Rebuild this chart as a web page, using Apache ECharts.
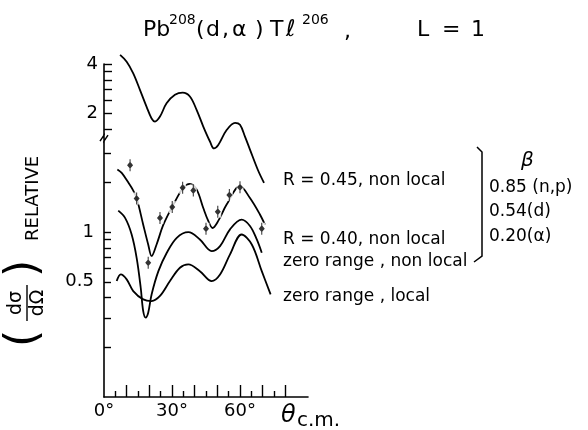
<!DOCTYPE html>
<html><head><meta charset="utf-8">
<script src="https://cdn.jsdelivr.net/npm/echarts@6/dist/echarts.min.js"></script>
<style>html,body{margin:0;padding:0;background:#fff}#c{width:588px;height:430px}</style>
</head><body><div id="c"></div>
<script>
// ---- data (angle in degrees, relative cross section) ----
const angleR045 = [7.1, 10.0, 12.9, 15.9, 18.8, 21.0, 22.5, 24.7, 27.6, 31.3, 34.7, 37.9, 40.9, 43.8, 46.8, 48.5, 50.4, 54.1, 57.8, 60.0, 62.2, 64.4, 67.9, 70.6];
const relR045   = [4.54, 4.13, 3.51, 2.78, 2.20, 1.87, 1.79, 1.92, 2.31, 2.60, 2.68, 2.54, 2.10, 1.67, 1.35, 1.23, 1.29, 1.59, 1.76, 1.71, 1.45, 1.21, 0.91, 0.76];

const angleR040 = [5.9, 7.8, 10.3, 12.8, 14.4, 17.3, 19.5, 21.0, 23.2, 26.2, 30.6, 35.0, 37.9, 40.9, 43.8, 46.0, 47.9, 50.4, 54.1, 60.0, 64.4, 68.8, 71.0];
const relR040   = [2.40, 2.29, 2.04, 1.80, 1.61, 1.11, 0.842, 0.715, 0.842, 1.11, 1.47, 1.86, 1.96, 1.81, 1.40, 1.17, 1.06, 1.17, 1.47, 1.90, 1.61, 1.28, 1.11];

const angleZeroNonlocal = [6.3, 9.3, 12.2, 14.4, 16.2, 17.3, 18.4, 19.5, 21.0, 24.0, 27.7, 32.1, 37.2, 42.3, 47.5, 51.2, 55.6, 60.7, 64.4, 67.4, 69.6];
const relZeroNonlocal   = [1.35, 1.22, 0.968, 0.699, 0.46, 0.332, 0.303, 0.324, 0.419, 0.58, 0.75, 0.924, 1.0, 0.903, 0.767, 0.823, 1.04, 1.19, 1.09, 0.903, 0.75];

const angleZeroLocal = [5.6, 7.4, 10.0, 12.9, 17.3, 21.0, 24.7, 29.1, 33.5, 37.2, 42.3, 47.5, 51.2, 55.6, 60.7, 65.2, 69.6, 73.5];
const relZeroLocal   = [0.505, 0.554, 0.517, 0.439, 0.391, 0.382, 0.41, 0.505, 0.608, 0.637, 0.58, 0.505, 0.554, 0.733, 0.968, 0.842, 0.58, 0.419];

const angleExp = [11.5, 14.4, 19.5, 24.7, 30.1, 34.7, 39.4, 45.0, 50.2, 55.3, 60.0, 69.6];
const relExp   = [2.55, 1.60, 0.652, 1.22, 1.42, 1.86, 1.79, 1.05, 1.33, 1.68, 1.87, 1.05];

// ---- ticks / labels ----
const xLabelValues = [0, 30, 60];
const xMajorTicks = [10, 20, 30, 40, 50, 60, 70, 80];
const xMinorTicks = [5, 15, 25, 35, 45, 55, 65, 75];
const yUpperTicks = [1.6, 2, 2.4, 2.8, 3.2, 3.6, 4];
const yUpperLabels = [2, 4];
const yLowerTicks = [0.2, 0.3, 0.4, 0.5, 0.6, 0.7, 0.8, 0.9, 1, 2, 3];
const yLowerLabels = [0.5, 1];
const curveLabels = ['R = 0.45, non local', 'R = 0.40, non local', 'zero range , non local', 'zero range , local'];
const betaLabels = ['0.85 (n,p)', '0.54(d)', '0.20(\u03b1)'];

// ---- build ----
const L = Math.log10;
const pairs = (a, v) => a.map((x, i) => [x, L(v[i])]);
const DECADES = 2.02;
const FONT = 'DejaVu Sans';
const fmtY = v => String(+Math.pow(10, v).toPrecision(2));
const black = '#000';

const chart = echarts.init(document.getElementById('c'), null, {renderer: 'canvas'});
const lineSeries = (name, data, yi) => ({
  name, type: 'line', data, xAxisIndex: 0, yAxisIndex: yi, smooth: 0.35, clip: false,
  showSymbol: false, symbol: 'none', lineStyle: {color: black, width: 1.8}, z: 2, silent: true
});
const expData = pairs(angleExp, relExp);

const option = {
  animation: false,
  backgroundColor: '#fff',
  grid: {left: 104, top: 64, width: 204, height: 333},
  xAxis: [
    {type: 'value', min: 0, max: 90, position: 'bottom',
     axisLine: {show: true, onZero: false, lineStyle: {color: black, width: 1.6}},
     axisTick: {show: true, inside: true, length: 12, customValues: xMajorTicks, lineStyle: {color: black, width: 1.4}},
     axisLabel: {customValues: xLabelValues, formatter: v => v + '\u00b0', color: black, fontSize: 18, fontFamily: FONT, margin: 5},
     splitLine: {show: false}},
    {type: 'value', min: 0, max: 90, position: 'bottom', offset: 0,
     axisLine: {show: false, onZero: false},
     axisTick: {show: true, inside: true, length: 6, customValues: xMinorTicks, lineStyle: {color: black, width: 1.4}},
     axisLabel: {show: false}, splitLine: {show: false}}
  ],
  yAxis: [
    {type: 'value', min: -1, max: -1 + DECADES, position: 'left', offset: 0,
     axisLine: {show: true, onZero: false, lineStyle: {color: black, width: 1.6}},
     axisTick: {show: true, inside: true, length: 7, customValues: yLowerTicks.map(L), lineStyle: {color: black, width: 1.4}},
     axisLabel: {customValues: yLowerLabels.map(L), formatter: fmtY, color: black, fontSize: 18, fontFamily: FONT, margin: 10},
     splitLine: {show: false}},
    {type: 'value', min: L(4) - DECADES, max: L(4), position: 'left', offset: 0,
     axisLine: {show: false, onZero: false},
     axisTick: {show: true, inside: true, length: 8, customValues: yUpperTicks.map(L), lineStyle: {color: black, width: 1.4}},
     axisLabel: {customValues: yUpperLabels.map(L), formatter: fmtY, color: black, fontSize: 18, fontFamily: FONT, margin: 6},
     splitLine: {show: false}}
  ],
  series: [
    lineSeries(curveLabels[0], pairs(angleR045, relR045), 1),
    lineSeries(curveLabels[1], pairs(angleR040, relR040), 0),
    lineSeries(curveLabels[2], pairs(angleZeroNonlocal, relZeroNonlocal), 0),
    lineSeries(curveLabels[3], pairs(angleZeroLocal, relZeroLocal), 0),
    {name: 'gap', type: 'scatter', xAxisIndex: 0, yAxisIndex: 0, data: expData,
     symbol: 'rect', symbolSize: [7, 12], itemStyle: {color: '#fff'}, z: 4, silent: true},
    {name: 'data', type: 'scatter', xAxisIndex: 0, yAxisIndex: 0, data: expData,
     symbol: 'path://M5,4 L9,10 L5,16 L1,10 Z M4.3,0 L5.7,0 L5.7,20 L4.3,20 Z', symbolSize: [6, 12],
     itemStyle: {color: black}, z: 5, silent: true}
  ],
  graphic: []
};
chart.setOption(option);

// ---- text and decorations ----
const g = [];
const txt = (x, y, text, size, extra) => g.push({type: 'text', x, y, style: Object.assign({text, fill: black, font: size + 'px "' + FONT + '"', verticalAlign: 'middle', align: 'left'}, extra || {})});
// title, piece by piece to follow the hand-lettered spacing
txt(143, 30, 'Pb', 22);
txt(169, 20, '208', 14);
txt(196, 30, '(', 22);
txt(206, 30, 'd', 22);
txt(222, 30, ',', 22);
txt(232, 30, '\u03b1', 22);
txt(255, 30, ')', 22);
txt(270, 30, 'T', 22);
txt(286, 30, '\u2113', 23);
txt(302, 20, '206', 14);
txt(344, 32, ',', 22);
txt(417, 30, 'L', 22);
txt(442, 30, '=', 22);
txt(471, 30, '1', 22);
// curve labels
const labelY = [181, 240, 262, 297];
curveLabels.forEach((t, i) => txt(283, labelY[i], t, 17));
// beta block
txt(521, 161, '\u03b2', 20, {font: 'italic 20px "' + FONT + '"'});
const betaY = [188, 212, 237];
betaLabels.forEach((t, i) => txt(489, betaY[i], t, 17));
g.push({type: 'polyline', shape: {points: [[477, 147], [482, 152], [482, 256], [474, 262]]}, style: {stroke: black, lineWidth: 1.5, fill: null}});
// x axis title
txt(281, 416, '\u03b8', 24, {font: 'italic 24px "' + FONT + '"'});
txt(297, 421, 'c.m.', 20);
// y axis title (rotated group, reads bottom to top)
g.push({type: 'group', x: 25, y: 347, rotation: Math.PI / 2, children: [
  {type: 'text', x: 0, y: 0, style: {text: '(', font: '44px "' + FONT + '"', fill: black, verticalAlign: 'middle', align: 'left'}},
  {type: 'text', x: 44, y: -9, style: {text: 'd\u03c3', font: '19px "' + FONT + '"', fill: black, verticalAlign: 'middle', align: 'center'}},
  {type: 'line', shape: {x1: 26, y1: 2, x2: 62, y2: 2}, style: {stroke: black, lineWidth: 1.4}},
  {type: 'text', x: 44, y: 13, style: {text: 'd\u03a9', font: '19px "' + FONT + '"', fill: black, verticalAlign: 'middle', align: 'center'}},
  {type: 'text', x: 70, y: 0, style: {text: ')', font: '44px "' + FONT + '"', fill: black, verticalAlign: 'middle', align: 'left'}},
  {type: 'text', x: 106, y: 8, style: {text: 'RELATIVE', font: '18px "' + FONT + '"', fill: black, verticalAlign: 'middle', align: 'left'}}
]});
// axis break mark on the y axis (between the two scales)
const bp = chart.convertToPixel({xAxisIndex: 0, yAxisIndex: 1}, [0, L(1.42)]);
g.push({type: 'rect', shape: {x: bp[0] - 2, y: bp[1] - 3, width: 4, height: 6}, style: {fill: '#fff'}, z: 10});
g.push({type: 'polyline', shape: {points: [[bp[0] - 4, bp[1] + 3], [bp[0], bp[1] - 3], [bp[0], bp[1] + 3], [bp[0] + 4, bp[1] - 3]]}, style: {stroke: black, lineWidth: 1.5, fill: null}, z: 11});
chart.setOption({graphic: g});
</script>
</body></html>
